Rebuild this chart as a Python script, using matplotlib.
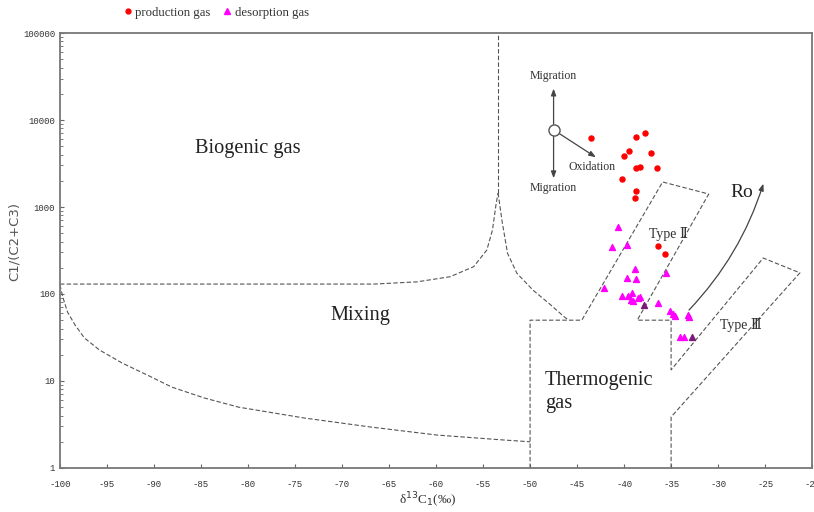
import matplotlib
matplotlib.use("Agg")
import matplotlib.pyplot as plt
from matplotlib.lines import Line2D

# ---------------------------------------------------------------------------
# Sample data
# ---------------------------------------------------------------------------
prod_x = [-43.5, -38.7, -37.8, -39.5, -40.0, -37.1, -38.7, -38.3, -36.5,
          -40.2, -38.7, -38.8, -36.4, -35.6]
prod_y = [6170, 6320, 7150, 4440, 3860, 4210, 2830, 2860, 2790,
          2080, 1540, 1260, 359, 286]

deso_x = [-40.6, -41.3, -39.7, -38.8, -39.7, -38.7, -42.1, -40.2, -39.6,
          -39.2, -39.3, -39.0, -38.5, -38.3, -36.4, -35.5, -35.1, -34.8,
          -34.6, -33.2, -33.1, -34.1, -33.6]
deso_y = [594, 350, 366, 192, 154, 147, 116, 95, 95,
          103, 85, 82, 89, 92, 78, 176, 63, 59,
          56, 57, 54, 32, 32]

# darker overlapping triangles
dark_x = [-37.9, -32.8]
dark_y = [75, 32]

# ---------------------------------------------------------------------------
# Diagram boundaries
# ---------------------------------------------------------------------------
bio_x = [-100, -66.6, -62.0, -58.5, -56.0, -54.6, -54.0, -53.6, -53.4]
bio_y = [130, 130, 138, 158, 206, 320, 544, 1112, 1449]

spike_x = [-53.4, -53.4]
spike_y = [1449, 100000]

desc_x = [-53.4, -53.0, -52.4, -51.4, -49.7, -48.0, -46.4, -45.9]
desc_y = [1449, 709, 294, 173, 111, 78, 55, 50]

mix_x = [-100, -99.7, -99.2, -98.4, -97.4, -95.8, -93.4, -90.5, -88.1,
         -84.7, -81.0, -74.0, -67.0, -59.9, -52.9, -50.0]
mix_y = [127, 92, 62, 44, 31.2, 22.7, 16.1, 11.4, 8.5,
         6.4, 5.0, 3.75, 2.96, 2.39, 2.10, 2.0]

thermo_x = [-50, -50, -44.5, -35.9, -31.0, -38.6, -35, -35, -25.2, -21.3, -35, -35]
thermo_y = [1, 50, 50, 1940, 1410, 50, 50, 13.4, 259, 175, 3.86, 1]

xticks = list(range(-100, -19, 5))
yticks = [1, 10, 100, 1000, 10000, 100000]

# ---------------------------------------------------------------------------
fig = plt.figure(figsize=(8.14, 5.12), dpi=100)
ax = fig.add_axes([0.0737, 0.086, 0.924, 0.8495])
ax.set_xlim(-100, -20)
ax.set_ylim(1, 100000)
ax.set_yscale("log")

dash = dict(color="#555555", lw=0.8, linestyle=(0, (4, 2)))
for xs, ys in [(bio_x, bio_y), (spike_x, spike_y), (desc_x, desc_y),
               (mix_x, mix_y), (thermo_x, thermo_y)]:
    ax.plot(xs, ys, **dash)

ax.scatter(prod_x, prod_y, s=13, color="#ff0000", marker="o", zorder=3)
ax.scatter(deso_x, deso_y, s=18, color="#ff00ff", marker="^", zorder=3)
ax.scatter(dark_x, dark_y, s=18, color="#7a1a7a", marker="^", zorder=4)

# region labels
serif = ["Liberation Serif", "DejaVu Serif"]
ax.text(-80, 4700, "Biogenic gas", fontsize=14.7, family=serif, color="#222",
        ha="center", va="center")
ax.text(-68, 57, "Mixing", fontsize=14.7, family=serif, color="#222",
        ha="center", va="center")
ax.text(-48.4, 7.4, "Thermogenic\ngas", fontsize=14.7, family=serif,
        color="#222", ha="left", va="center", linespacing=1.3)
ax.text(-27.5, 1450, "Ro", fontsize=14, family=serif, color="#222",
        ha="center", va="center")
ax.text(-35.3, 490, "Type Ⅱ", fontsize=10, family=serif, color="#333",
        ha="center", va="center")
ax.text(-27.6, 44, "Type Ⅲ", fontsize=10, family=serif, color="#333",
        ha="center", va="center")

# migration / oxidation arrows
cx, cy = -47.5, 7700
arr = dict(arrowstyle="-|>,head_length=0.4,head_width=0.15", color="#444",
           lw=0.9, shrinkA=4, shrinkB=0)
ax.annotate("", xy=(cx, 23000), xytext=(cx, cy), arrowprops=arr)
ax.annotate("", xy=(cx, 2140), xytext=(cx, cy), arrowprops=arr)
ax.annotate("", xy=(-43.0, 3730), xytext=(cx, cy), arrowprops=arr)
ax.plot([cx], [cy], marker="o", ms=8, mfc="white", mec="#555", mew=1, zorder=5)
ax.text(cx, 32000, "Migration", fontsize=8.5, family=serif, color="#333",
        ha="center", va="center")
ax.text(cx, 1640, "Migration", fontsize=8.5, family=serif, color="#333",
        ha="center", va="center")
ax.text(-43.4, 2860, "Oxidation", fontsize=8.5, family=serif, color="#333",
        ha="center", va="center")

# Ro maturity arrow
ax.annotate("", xy=(-25.1, 1990), xytext=(-33.3, 62),
            arrowprops=dict(arrowstyle="-|>,head_length=0.4,head_width=0.15",
                            color="#444", lw=0.9,
                            connectionstyle="arc3,rad=0.12"))

# axes styling
ax.set_xticks(xticks)
ax.set_xticklabels([str(t) for t in xticks])
ax.set_yticks(yticks)
ax.set_yticklabels([str(t) for t in yticks])
ax.tick_params(axis="both", which="both", direction="in", labelsize=6.5,
               labelcolor="#333", color="#666")
ax.tick_params(axis="x", pad=9, length=3)
ax.tick_params(axis="y", which="major", length=3)
ax.tick_params(axis="y", which="minor", length=2)
for lab in ax.get_xticklabels() + ax.get_yticklabels():
    lab.set_family("Liberation Mono")
for sp in ax.spines.values():
    sp.set_color("#777")
    sp.set_linewidth(1.3)

ax.set_ylabel("C1/(C2+C3)", fontsize=9.5, color="#555")
ax.yaxis.set_label_coords(-0.052, 0.52)
ax.set_xlabel(r"δ$^{13}$C$_1$(‰)", fontsize=9.5, family=serif, color="#333")
ax.xaxis.set_label_coords(0.489, -0.052)

handles = [
    Line2D([], [], marker="o", color="#ff0000", ls="", ms=3.5),
    Line2D([], [], marker="^", color="#ff00ff", ls="", ms=4),
]
fig.legend(handles, ["production gas", "desorption gas"], ncol=2,
           loc="center left", bbox_to_anchor=(0.135, 0.975), frameon=False,
           prop=dict(family=serif, size=9.2), handletextpad=0.1,
           columnspacing=0.8, handlelength=1.0, labelcolor="#333")

fig.savefig("out.png", dpi=100)
